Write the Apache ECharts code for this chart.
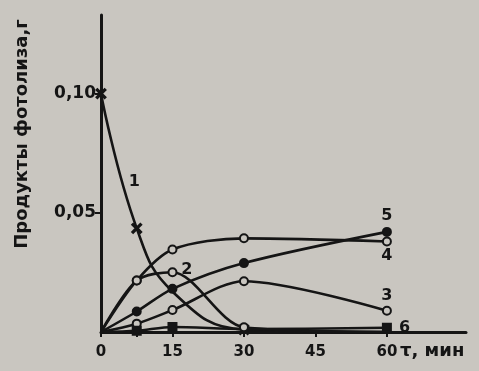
<!DOCTYPE html>
<html><head><meta charset="utf-8">
<script src="https://cdn.jsdelivr.net/npm/echarts@6/dist/echarts.min.js"></script>
<style>html,body{margin:0;padding:0;background:#c9c6c0}#c{width:479px;height:371px}</style>
</head><body><div id="c"></div>
<script>
const times = [0, 7.5, 15, 30, 60];
const s1 = [0.100, 0.0435, 0.017, 0.001, 0.000];
const s2 = [0, 0.0216, 0.0251, 0.002, 0.000];
const s3 = [0, 0.0035, 0.0092, 0.0213, 0.0089];
const s4 = [0, 0.0216, 0.0346, 0.0393, 0.0380];
const s5 = [0, 0.0086, 0.0181, 0.0289, 0.0420];
const s6 = [0, 0.0005, 0.0021, 0.0012, 0.0018];
const xTicks = [0, 15, 30, 45, 60];
const yTicks = [0.05, 0.10];
const yName = 'Продукты фотолиза,г';
const xName = 'τ, мин';
const curveLabels = [
  {name:'1', t:7.0, v:0.063},
  {name:'2', t:18.0, v:0.0262}
];

const INK = '#151515';
const BG = '#c9c6c0';
const FONT = 'DejaVu Sans';
const crossPath = 'path://M0,1L1,0L5,4L9,0L10,1L6,5L10,9L9,10L5,6L1,10L0,9L4,5Z';

function mk(arr, opts){
  opts = opts || {};
  return arr.map((v,i)=>{
    const item = {value:[times[i], v]};
    if (i===0 && !opts.keepFirst) item.symbol = 'none';
    if (opts.hide && opts.hide.includes(i)) item.symbol = 'none';
    if (opts.endLabel && i===arr.length-1) item.label = opts.endLabel;
    return item;
  });
}
function line(name, data, symbol, size, fill, extra){
  return Object.assign({
    type:'line', name, data, smooth:0.3,
    symbol, symbolSize:size, showAllSymbol:true,
    lineStyle:{color:INK, width:2.6},
    itemStyle:{color:fill, borderColor:INK, borderWidth:2},
    z:3, animation:false
  }, extra||{});
}
const lab = (txt, pos, off) => ({show:true, formatter:txt, position:pos, offset:off||[0,0],
  color:INK, fontFamily:FONT, fontWeight:'bold', fontSize:16});
const mp = (c) => ({symbol:'circle', symbolSize:0, data:[{coord:[c.t, c.v], value:c.name}],
  label:{show:true, formatter:'{c}', color:INK, fontFamily:FONT, fontWeight:'bold', fontSize:16}});

const chart = echarts.init(document.getElementById('c'), null, {renderer:'canvas'});
chart.setOption({
  backgroundColor: BG,
  animation:false,
  grid:{left:101, top:15, width:365, height:317},
  xAxis:{type:'value', min:0, max:76.6, interval:15,
    axisLine:{lineStyle:{color:INK, width:3}},
    axisTick:{show:true, customValues:xTicks.concat([7.5]), length:5, lineStyle:{color:INK, width:2}},
    axisLabel:{customValues:xTicks, color:INK, fontFamily:FONT, fontWeight:'bold', fontSize:15, margin:13},
    splitLine:{show:false}
  },
  yAxis:{type:'value', min:0, max:0.133, interval:0.05,
    axisLine:{lineStyle:{color:INK, width:3}},
    axisTick:{show:true, customValues:yTicks, length:6, lineStyle:{color:INK, width:2}},
    axisLabel:{customValues:yTicks, color:INK, fontFamily:FONT, fontWeight:'bold', fontSize:17, margin:5,
      formatter:v=>v.toFixed(2).replace('.', ',')},
    splitLine:{show:false}
  },
  graphic:[
    {type:'text', left:400, top:342, style:{text:xName, fill:INK, font:'bold 18px "'+FONT+'"'}},
    {type:'text', x:22, y:134, rotation:Math.PI/2, style:{text:yName, fill:INK, font:'bold 18px "'+FONT+'"', textAlign:'center', textVerticalAlign:'middle'}}
  ],
  series:[
    line('1', mk(s1,{keepFirst:true, hide:[2,4]}), crossPath, 9, INK, {smooth:0.45, markPoint:mp(curveLabels[0])}),
    line('2', mk(s2,{hide:[4]}), 'circle', 8, BG, {markPoint:mp(curveLabels[1])}),
    line('3', mk(s3,{endLabel:lab('3','top',[0,3])}), 'circle', 8, BG),
    line('4', mk(s4,{endLabel:lab('4','bottom',[0,-4])}), 'circle', 8, BG),
    line('5', mk(s5,{endLabel:lab('5','top',[0,2])}), 'circle', 8, INK),
    line('6', mk(s6,{hide:[3], endLabel:lab('6','right',[2,0])}), 'rect', 8, INK)
  ]
});
</script></body></html>
